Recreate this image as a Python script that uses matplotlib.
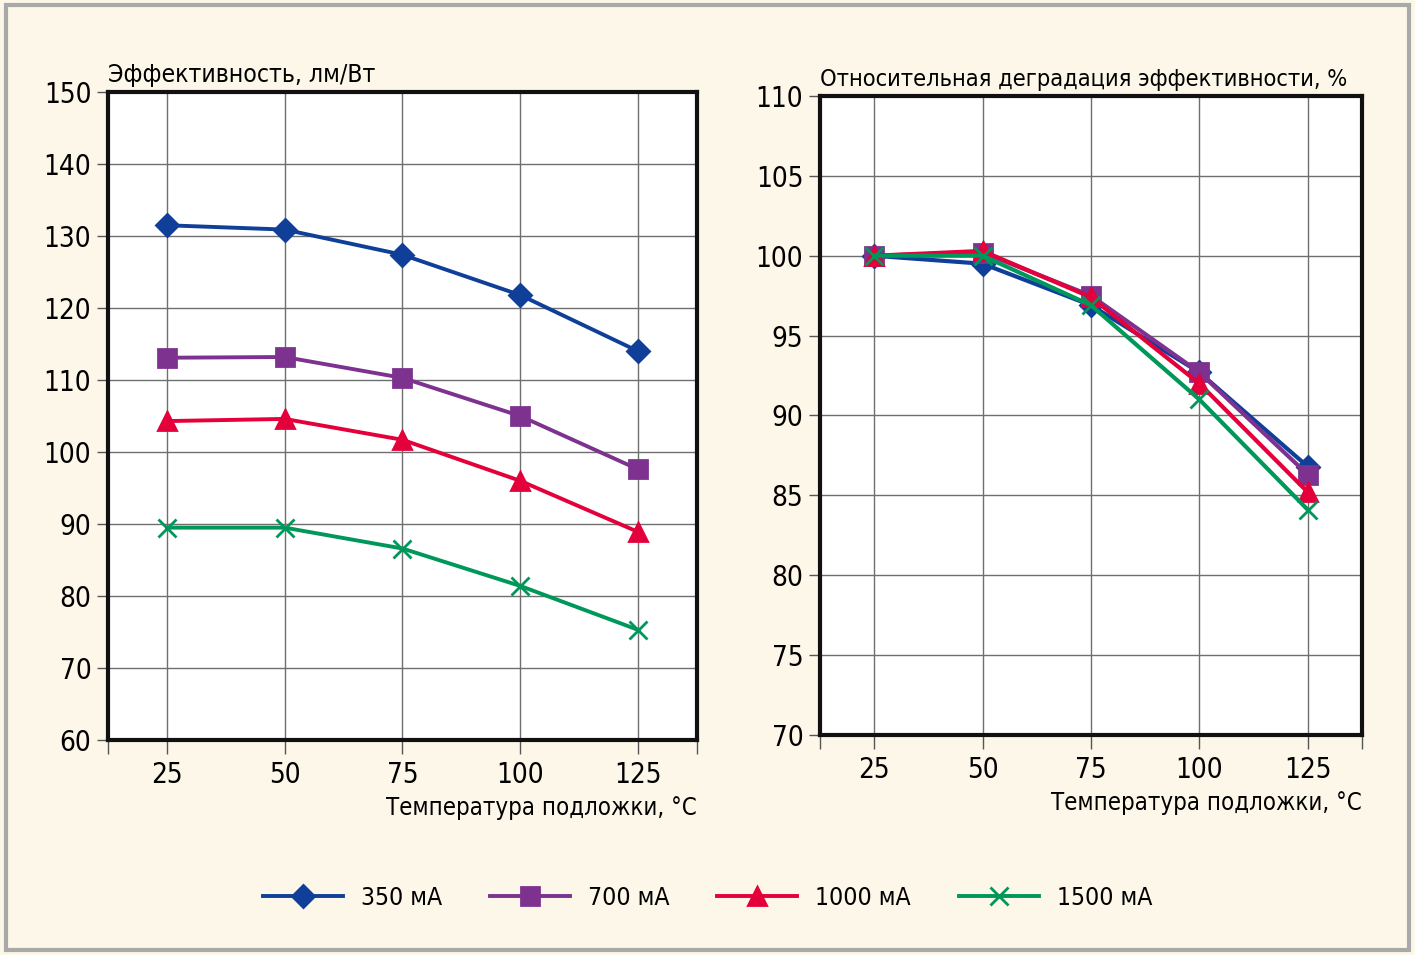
import matplotlib
matplotlib.use("Agg")
import matplotlib.pyplot as plt
from matplotlib import font_manager
from matplotlib.ft2font import FT2Font
from matplotlib.patches import Rectangle

need = 'ОтносительнаядеградацияэффективностиЭлмВТемпературподложкиС°%,/мА0123456789'


def covers(path):
    try:
        cm = FT2Font(path).get_charmap()
    except Exception:
        return False
    return all(ord(ch) in cm for ch in need)


# ищем узкий шрифт с кириллицей
narrow = None
for f in font_manager.fontManager.ttflist:
    n = f.name
    cond = ('Narrow' in n or 'Condensed' in n or str(f.stretch) in ('condensed', 'semi-condensed'))
    if cond and 'Mono' not in n and f.style == 'normal' and f.weight in (400, 'normal', 'regular'):
        if covers(f.fname):
            narrow = f
            break

if narrow is not None:
    plt.rcParams['font.family'] = [narrow.name, 'DejaVu Sans']
    plt.rcParams['font.stretch'] = narrow.stretch
else:
    plt.rcParams['font.family'] = ['Liberation Sans', 'DejaVu Sans']
fs = 20

# данные
temps = [25, 50, 75, 100, 125]
labels = ['350 мА', '700 мА', '1000 мА', '1500 мА']

eff_350 = [131.5, 130.9, 127.4, 121.8, 114.0]
eff_700 = [113.1, 113.2, 110.3, 105.0, 97.6]
eff_1000 = [104.3, 104.6, 101.7, 96.0, 88.9]
eff_1500 = [89.5, 89.5, 86.6, 81.4, 75.3]

rel_350 = [100.0, 99.5, 96.9, 92.7, 86.8]
rel_700 = [100.0, 100.2, 97.5, 92.7, 86.3]
rel_1000 = [100.0, 100.3, 97.4, 92.0, 85.2]
rel_1500 = [100.0, 100.0, 96.9, 91.0, 84.1]

colors = ['#0f3f99', '#7d3290', '#e4003a', '#00975a']
markers = ['D', 's', '^', 'x']
msizes = [11, 13.5, 12.5, 13]

bg = '#fdf7e9'

fig = plt.figure(figsize=(14.15, 9.55), dpi=100, facecolor=bg)
fig.patches.append(Rectangle((0.004, 0.005), 0.992, 0.99, transform=fig.transFigure,
                             fill=False, edgecolor='#a9a9a9', linewidth=3))

ax1 = fig.add_axes([0.0763, 0.2251, 0.4163, 0.6785])
ax2 = fig.add_axes([0.5795, 0.2304, 0.3830, 0.6691])

renderer = fig.canvas.get_renderer()


def fit(t, width_px):
    # подгоняем размер шрифта под ширину надписи на исходнике
    w = t.get_window_extent(renderer).width
    t.set_fontsize(t.get_fontsize() * width_px / w)


def style(ax, ylim, ystep, title, title_w):
    ax.set_facecolor('white')
    ax.set_xlim(12.5, 137.5)
    ax.set_ylim(*ylim)
    ax.set_xticks([12.5] + temps + [137.5])
    ax.set_xticklabels([''] + [str(t) for t in temps] + [''])
    yt = list(range(ylim[0], ylim[1] + 1, ystep))
    ax.set_yticks(yt)
    ax.tick_params(axis='x', direction='out', length=10, width=1, color='#555555',
                   labelsize=fs, pad=5)
    ax.tick_params(axis='y', direction='out', length=8, width=1, color='#555555',
                   labelsize=fs, pad=4)
    for x in temps:
        ax.axvline(x, color='#6f6f6f', lw=1, zorder=1)
    for y in yt[1:-1]:
        ax.axhline(y, color='#6f6f6f', lw=1, zorder=1)
    for s in ax.spines.values():
        s.set_linewidth(3)
        s.set_color('#111111')
        s.set_zorder(5)
    t = ax.text(0.0, 1.008, title, transform=ax.transAxes, fontsize=fs,
                ha='left', va='bottom')
    fit(t, title_w)
    xl = ax.set_xlabel('Температура подложки, °C', fontsize=fs, loc='right', labelpad=5)
    fit(xl, 309)


style(ax1, (60, 150), 10, 'Эффективность, лм/Вт', 268)
style(ax2, (70, 110), 5, 'Относительная деградация эффективности, %', 528)

for vals, c, m, ms, lab in zip([eff_350, eff_700, eff_1000, eff_1500], colors, markers, msizes, labels):
    ax1.plot(temps, vals, color=c, marker=m, markersize=ms, lw=2.8, mew=2,
             label=lab, zorder=3, clip_on=False)

for vals, c, m, ms in zip([rel_350, rel_700, rel_1000, rel_1500], colors, markers, msizes):
    ax2.plot(temps, vals, color=c, marker=m, markersize=ms, lw=3, mew=2,
             zorder=3, clip_on=False)

# размер шрифта легенды по ширине "350 мА" (~81 px)
probe = fig.text(0, 0, labels[0], fontsize=fs)
fl = fs * 81 / probe.get_window_extent(renderer).width
probe.remove()
em = fl * 100 / 72

h, l = ax1.get_legend_handles_labels()
fig.legend(h, l, loc='center', bbox_to_anchor=(0.5, 0.06), ncol=4, frameon=False,
           fontsize=fl, handlelength=80 / em, columnspacing=48 / em, handletextpad=18 / em)

fig.savefig('out.png', dpi=100, facecolor=bg)
